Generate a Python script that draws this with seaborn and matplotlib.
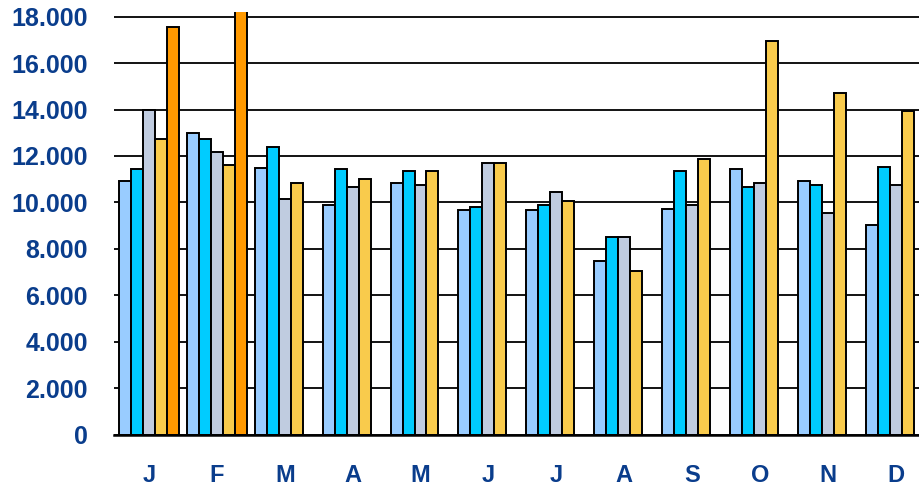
import pandas as pd
import seaborn as sns
import matplotlib.pyplot as plt
from matplotlib.ticker import FuncFormatter

# -------------------------------
# Data
# -------------------------------
months = ["Jan", "Feb", "Mar", "Apr", "May", "Jun",
          "Jul", "Aug", "Sep", "Oct", "Nov", "Dec"]
month_labels = ["J", "F", "M", "A", "M", "J", "J", "A", "S", "O", "N", "D"]
series_names = ["Serie 1", "Serie 2", "Serie 3", "Serie 4", "Serie 5"]

serie_1 = [10900, 13000, 11500, 9900, 10850, 9650, 9650, 7480, 9730, 11420, 10900, 9010]
serie_2 = [11450, 12750, 12400, 11450, 11350, 9800, 9880, 8510, 11350, 10650, 10750, 11520]
serie_3 = [14000, 12150, 10150, 10660, 10750, 11700, 10430, 8510, 9870, 10830, 9550, 10750]
serie_4 = [12720, 11620, 10830, 11000, 11350, 11700, 10070, 7050, 11870, 16950, 14700, 13930]
serie_5 = [17550, 19000]  # only January and February

colors = ["#99CCFF", "#00CCFF", "#C0CCE0", "#F9CB4C", "#FF9900"]
text_color = "#0A3D8C"

rows = []
for name, values in zip(series_names, [serie_1, serie_2, serie_3, serie_4, serie_5]):
    for m, v in zip(months, values):
        rows.append({"month": m, "series": name, "value": v})
df = pd.DataFrame(rows)

# -------------------------------
# Plot
# -------------------------------
sns.set_style("white")
plt.rcParams["font.family"] = ["Liberation Sans", "DejaVu Sans"]

fig = plt.figure(figsize=(9.2, 4.88), dpi=100)
ax = fig.add_axes([0.124, 0.1096, 0.876, 0.8658])

sns.barplot(
    data=df, x="month", y="value", hue="series",
    order=months, hue_order=series_names, palette=colors,
    width=0.882, gap=0, dodge=True, legend=False,
    edgecolor="black", linewidth=1.4, saturation=1, ax=ax, zorder=3
)

ax.set_ylim(0, 18200)
ax.set_xlim(-0.515, 11.36)
ax.set_yticks(range(0, 18001, 2000))
ax.yaxis.set_major_formatter(
    FuncFormatter(lambda v, p: "0" if v == 0 else f"{int(v):,}".replace(",", "."))
)
ax.set_xticks(range(len(months)))
ax.set_xticklabels(month_labels)

ax.grid(axis="y", color="black", linewidth=1.3, zorder=0)
ax.set_axisbelow(True)
for side in ["left", "right", "top"]:
    ax.spines[side].set_visible(False)
ax.spines["bottom"].set_color("black")
ax.spines["bottom"].set_linewidth(1.8)
ax.spines["bottom"].set_zorder(5)

ax.tick_params(axis="y", length=0, pad=19, labelsize=18, labelcolor=text_color)
ax.tick_params(axis="x", length=0, pad=21, labelsize=17, labelcolor=text_color)
for lab in ax.get_xticklabels() + ax.get_yticklabels():
    lab.set_fontweight("bold")

ax.set_xlabel("")
ax.set_ylabel("")

plt.savefig("out.png", dpi=100)
plt.close()
